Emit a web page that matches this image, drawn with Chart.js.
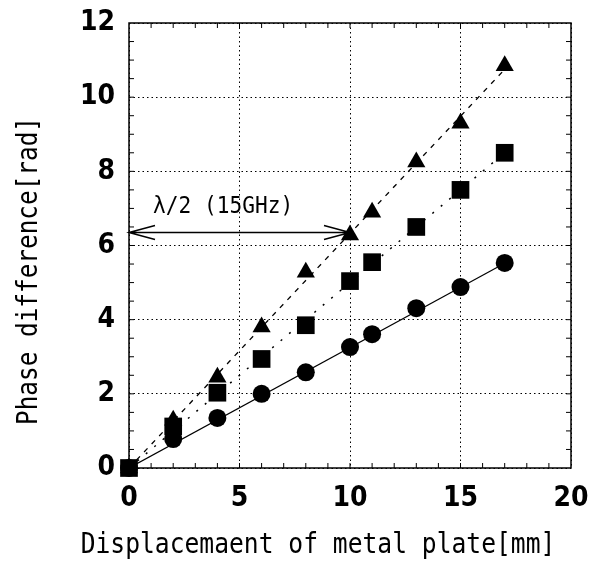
<!DOCTYPE html>
<html>
<head>
<meta charset="utf-8">
<script src="https://cdn.jsdelivr.net/npm/chart.js@4.4.1/dist/chart.umd.min.js"></script>
<style>
  html, body { margin: 0; padding: 0; background: #fff; }
  #wrap { width: 591px; height: 562px; position: relative; }
</style>
</head>
<body>
<div id="wrap"><canvas id="c" width="591" height="562"></canvas></div>
<script>
// ---- data ----
const displacement = [0, 2, 4, 6, 8, 10, 11, 13, 15, 17];
const circleValues   = [0, 0.78, 1.35, 2.0, 2.58, 3.26, 3.61, 4.31, 4.88, 5.53];
const squareValues   = [0, 1.12, 2.03, 2.94, 3.85, 5.04, 5.55, 6.5, 7.5, 8.5];
const triangleValues = [0, 1.29, 2.45, 3.8, 5.28, 6.28, 6.9, 8.25, 9.3, 10.85];
// fitted straight lines (start / end points)
const fitX = [0, 17];
const circleFit   = [0, 5.52];
const squareFit   = [0, 8.5];
const triangleFit = [0, 10.75];
// axis ticks
const xTicks = [0, 5, 10, 15, 20];
const yTicks = [0, 2, 4, 6, 8, 10, 12];
// annotation
const halfWaveX = [0, 10];
const halfWaveY = 6.35;
const halfWaveLabel = 'λ/2 (15GHz)';
const xTitle = 'Displacemaent of metal plate[mm]';
const yTitle = 'Phase difference[rad]';

const pts = (xs, ys) => xs.map((x, i) => ({x: x, y: ys[i]}));

const tickFont = { family: "'Liberation Sans Narrow', 'DejaVu Sans Condensed', 'Liberation Sans'", size: 28, weight: 'bold' };

const decor = {
  id: 'decor',
  afterDraw(chart) {
    const ctx = chart.ctx;
    const xs = chart.scales.x, ys = chart.scales.y;
    const a = chart.chartArea;
    ctx.save();
    // frame
    ctx.strokeStyle = '#000';
    ctx.lineWidth = 1.5;
    ctx.strokeRect(a.left, a.top, a.right - a.left, a.bottom - a.top);
    // inward minor ticks
    ctx.lineWidth = 1;
    ctx.beginPath();
    for (let v = 1; v < 20; v++) {
      const px = xs.getPixelForValue(v);
      ctx.moveTo(px, a.bottom); ctx.lineTo(px, a.bottom - 5);
      ctx.moveTo(px, a.top); ctx.lineTo(px, a.top + 5);
    }
    for (let v = 0.5; v < 12; v += 0.5) {
      const py = ys.getPixelForValue(v);
      ctx.moveTo(a.left, py); ctx.lineTo(a.left + 5, py);
      ctx.moveTo(a.right, py); ctx.lineTo(a.right - 5, py);
    }
    ctx.stroke();
    // double arrow
    const x1 = xs.getPixelForValue(halfWaveX[0]);
    const x2 = xs.getPixelForValue(halfWaveX[1]);
    const y = ys.getPixelForValue(halfWaveY);
    ctx.lineWidth = 1.5;
    ctx.beginPath();
    ctx.moveTo(x1, y); ctx.lineTo(x2, y);
    ctx.moveTo(x1 + 26, y - 7); ctx.lineTo(x1, y); ctx.lineTo(x1 + 26, y + 7);
    ctx.moveTo(x2 - 26, y - 7); ctx.lineTo(x2, y); ctx.lineTo(x2 - 26, y + 7);
    ctx.stroke();
    // label
    ctx.fillStyle = '#000';
    ctx.textBaseline = 'alphabetic';
    ctx.textAlign = 'left';
    ctx.save();
    ctx.translate(153, y - 20);
    ctx.scale(0.92, 1);
    ctx.font = "23px 'DejaVu Sans Mono'";
    ctx.fillText(halfWaveLabel, 0, 0);
    ctx.restore();
    // x title
    ctx.save();
    ctx.textAlign = 'center';
    ctx.translate(318, 553);
    ctx.scale(0.88, 1);
    ctx.font = "28px 'DejaVu Sans Mono'";
    ctx.fillText(xTitle, 0, 0);
    ctx.restore();
    // y title
    ctx.save();
    ctx.textAlign = 'center';
    ctx.translate(37, 271);
    ctx.rotate(-Math.PI / 2);
    ctx.scale(0.87, 1);
    ctx.font = "28px 'DejaVu Sans Mono'";
    ctx.fillText(yTitle, 0, 0);
    ctx.restore();
    ctx.restore();
  }
};

new Chart(document.getElementById('c'), {
  type: 'scatter',
  data: {
    datasets: [
      { label: 'square', data: pts(displacement, squareValues), pointStyle: 'rect', pointRadius: 12.5,
        backgroundColor: '#000', borderColor: '#000', borderWidth: 0, showLine: false, clip: false, order: 1 },
      { label: 'triangle', data: pts(displacement, triangleValues), pointStyle: 'triangle', pointRadius: 10.5,
        backgroundColor: '#000', borderColor: '#000', borderWidth: 0, showLine: false, clip: false, order: 2 },
      { label: 'circle', data: pts(displacement, circleValues), pointStyle: 'circle', pointRadius: 9,
        backgroundColor: '#000', borderColor: '#000', borderWidth: 0, showLine: false, clip: false, order: 3 },
      { label: 'circle fit', data: pts(fitX, circleFit), showLine: true, pointRadius: 0,
        borderColor: '#000', borderWidth: 1.2, order: 4 },
      { label: 'square fit', data: pts(fitX, squareFit), showLine: true, pointRadius: 0,
        borderColor: '#000', borderWidth: 1.5, borderDash: [2, 9], order: 5 },
      { label: 'triangle fit', data: pts(fitX, triangleFit), showLine: true, pointRadius: 0,
        borderColor: '#000', borderWidth: 1.3, borderDash: [5, 6], order: 6 }
    ]
  },
  options: {
    responsive: false,
    animation: false,
    layout: { padding: { left: 0, top: 23, right: 20, bottom: 0 } },
    plugins: { legend: { display: false }, tooltip: { enabled: false } },
    scales: {
      x: {
        type: 'linear', min: 0, max: 20,
        afterBuildTicks(s) { s.ticks = xTicks.map(v => ({value: v})); },
        afterFit(s) { s.height = 94; s.paddingLeft = 0; s.paddingRight = 0; },
        ticks: { color: '#000', font: tickFont, padding: 14, maxRotation: 0 },
        grid: { color: '#000', lineWidth: 1, drawTicks: false },
        border: { display: false, dash: [1.5, 3] }
      },
      y: {
        type: 'linear', min: 0, max: 12,
        afterBuildTicks(s) { s.ticks = yTicks.map(v => ({value: v})); },
        afterFit(s) { s.width = 129; s.paddingTop = 0; s.paddingBottom = 0; },
        ticks: { color: '#000', font: tickFont, padding: 14 },
        grid: { color: '#000', lineWidth: 1, drawTicks: false },
        border: { display: false, dash: [1.5, 3] }
      }
    }
  },
  plugins: [decor]
});
</script>
</body>
</html>
